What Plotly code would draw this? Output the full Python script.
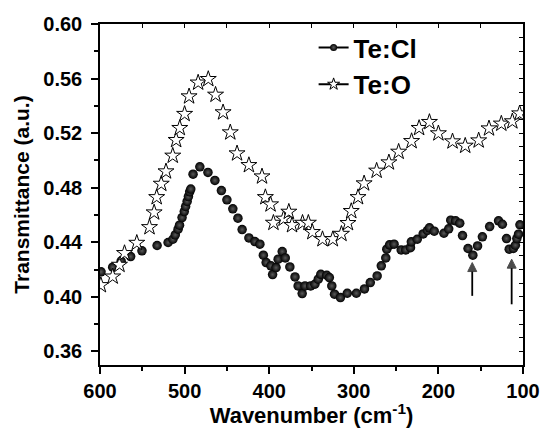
import plotly.graph_objects as go

# Te:Cl (spheres)
cl_x = [598.8, 585, 575, 563.8, 550.4, 532.5, 519.5, 513.8, 511, 507.7, 506, 503, 500.4, 498.8, 497, 495.5,
        494, 492.7, 490, 482, 472.4, 464.2, 456.5, 450, 443, 437, 432, 424, 417, 411, 406.9, 403.6, 398, 396,
        391.9, 389.4, 384.6, 381, 375.6, 369.5, 365.8, 361, 357.7, 351, 346, 342, 339, 332, 328.9, 326, 322.8,
        315.8, 307.7, 297, 287.4, 280.5, 272.4, 267.5, 262.2, 261, 257.7, 252.4, 244, 238.6, 233, 232, 225, 218,
        213, 210.6, 204.9, 193.5, 187.8, 185.4, 179.7, 174.8, 171.5, 165, 159.3, 153.7, 148, 139.4, 128.9, 124.4,
        119.5, 116.3, 111.4, 109, 107.3, 105.3, 103.6]
cl_y = [0.4183, 0.4217, 0.4261, 0.4295, 0.4337, 0.4376, 0.4398, 0.4422, 0.4454, 0.4496, 0.4525, 0.4581, 0.4625,
        0.4662, 0.4699, 0.4735, 0.4770, 0.4790, 0.4899, 0.4953, 0.4912, 0.4853, 0.4779, 0.4711, 0.4645, 0.4576,
        0.4493, 0.4432, 0.4405, 0.4386, 0.4305, 0.4251, 0.4227, 0.4163, 0.4214, 0.4276, 0.4332, 0.4285, 0.4219,
        0.4146, 0.4080, 0.4024, 0.4080, 0.4080, 0.4092, 0.4129, 0.4165, 0.4158, 0.4141, 0.4080, 0.4019, 0.3994,
        0.4026, 0.4026, 0.4058, 0.4104, 0.4153, 0.4227, 0.4285, 0.4349, 0.4381, 0.4386, 0.4344, 0.4344, 0.4360,
        0.4403, 0.4422, 0.4461, 0.4486, 0.4506, 0.4481, 0.4466, 0.4498, 0.4562, 0.4557, 0.4540, 0.4449, 0.4354,
        0.4305, 0.4373, 0.4440, 0.4515, 0.4557, 0.4532, 0.4427, 0.4349, 0.4354, 0.4378, 0.4427, 0.4459, 0.4528]

# Te:O (open stars)
o_x = [599, 585, 577, 571, 556.5, 541.5, 536, 533, 527.6, 522, 514, 510, 505.7, 500, 494.7, 484, 472, 463.4,
       454.5, 446, 438, 424, 408.5, 404.5, 398.4, 395, 383, 376.8, 373, 360.6, 353.7, 349, 337, 324.8, 314.6,
       306.9, 303, 295, 287.8, 273, 258.5, 247, 231.7, 222.8, 210.6, 200, 183.3, 168.3, 152.4, 140.2, 125.6,
       112.6, 104]
o_y = [0.4085, 0.4148, 0.4234, 0.4320, 0.4395, 0.4510, 0.4618, 0.4730, 0.4828, 0.4919, 0.5034, 0.5149, 0.5237,
       0.5340, 0.5469, 0.5570, 0.5596, 0.5481, 0.5352, 0.5205, 0.5051, 0.4965, 0.4882, 0.4730, 0.4677, 0.4542,
       0.4572, 0.4623, 0.4525, 0.4542, 0.4542, 0.4474, 0.4422, 0.4422, 0.4461, 0.4540, 0.4628, 0.4730, 0.4831,
       0.4924, 0.4985, 0.5063, 0.5141, 0.5237, 0.5281, 0.5198, 0.5139, 0.5107, 0.5146, 0.5234, 0.5269, 0.5286,
       0.5344]

# arrows marking the two Te:Cl bands
arrow_x = [160, 113.4]
arrow_tail = [0.4007, 0.3945]
arrow_head = [0.4251, 0.4276]

y_ticks = [0.36, 0.40, 0.44, 0.48, 0.52, 0.56, 0.60]
x_ticks = [600, 500, 400, 300, 200, 100]

FONT = "Liberation Sans, Arial, sans-serif"

fig = go.Figure()
fig.add_trace(go.Scatter(
    x=cl_x, y=cl_y, mode="markers", showlegend=False,
    marker=dict(symbol="circle", size=9.5, color="#000000",
                gradient=dict(type="radial", color="#5a5a5a"), line=dict(width=0))))
fig.add_trace(go.Scatter(
    x=o_x, y=o_y, mode="markers", showlegend=False,
    marker=dict(symbol="star", size=12, color="white", line=dict(color="black", width=1))))

# legend entries (line + symbol)
fig.add_trace(go.Scatter(
    x=[None], y=[None], mode="lines+markers", name="Te:Cl",
    line=dict(color="black", width=2),
    marker=dict(symbol="circle", size=7, color="black", gradient=dict(type="radial", color="#5a5a5a"))))
fig.add_trace(go.Scatter(
    x=[None], y=[None], mode="lines+markers", name="Te:O",
    line=dict(color="black", width=2),
    marker=dict(symbol="star", size=9, color="white", line=dict(color="black", width=1))))
# anchor for mirrored axes
fig.add_trace(go.Scatter(x=[None], y=[None], xaxis="x2", yaxis="y2", showlegend=False, mode="markers"))

# arrows as line + arrowhead marker
for i in range(len(arrow_x)):
    fig.add_trace(go.Scatter(
        x=[arrow_x[i], arrow_x[i]], y=[arrow_tail[i], arrow_head[i]], mode="lines+markers",
        showlegend=False, hoverinfo="skip",
        line=dict(color="black", width=1.8),
        marker=dict(symbol=["circle", "arrow-up"], size=[0, 9], color="black",
                    line=dict(width=1, color="black"))))

fig.update_layout(
    width=541, height=428,
    margin=dict(l=100, r=18, t=24, b=63, autoexpand=False),
    paper_bgcolor="white", plot_bgcolor="white",
    font=dict(family=FONT, size=20, color="black", weight="bold"),
    xaxis=dict(range=[600, 100], autorange=False, tickvals=x_ticks, automargin=False,
               showline=True, linecolor="black", linewidth=1.5,
               ticks="outside", ticklen=7, tickwidth=1.5, tickcolor="black",
               minor=dict(dtick=50, tick0=100, ticks="outside", ticklen=4, tickwidth=1.5, tickcolor="black"),
               showgrid=False, zeroline=False,
               tickfont=dict(size=20, family=FONT, weight="bold"),
               title=dict(text="Wavenumber (cm<sup>-1</sup>)", font=dict(size=22, family=FONT, weight="bold"),
                          standoff=2)),
    yaxis=dict(range=[0.35, 0.60], autorange=False, tickvals=y_ticks, tickformat=".2f", automargin=False,
               showline=True, linecolor="black", linewidth=1.5,
               ticks="outside", ticklen=7, tickwidth=1.5, tickcolor="black", ticklabelstandoff=5,
               minor=dict(dtick=0.02, tick0=0.36, ticks="outside", ticklen=4, tickwidth=1.5, tickcolor="black"),
               showgrid=False, zeroline=False,
               tickfont=dict(size=20, family=FONT, weight="bold"),
               title=dict(text="Transmittance (a.u.)", font=dict(size=21, family=FONT, weight="bold"),
                          standoff=8)),
    xaxis2=dict(overlaying="x", side="top", range=[600, 100], autorange=False, dtick=50, tick0=100,
                showline=True, linecolor="black", linewidth=1.5, ticks="inside", ticklen=4,
                tickwidth=1, tickcolor="black", showticklabels=False, showgrid=False, zeroline=False),
    yaxis2=dict(overlaying="y", side="right", range=[0.35, 0.60], autorange=False, dtick=0.01, tick0=0.35,
                showline=True, linecolor="black", linewidth=1.5, ticks="inside", ticklen=4,
                tickwidth=1, tickcolor="black", showticklabels=False, showgrid=False, zeroline=False),
    legend=dict(x=0.505, y=1.0, xanchor="left", yanchor="top", bgcolor="rgba(0,0,0,0)",
                font=dict(size=26, family=FONT, weight="bold"), tracegroupgap=0),
)

fig.write_html("out.html")
